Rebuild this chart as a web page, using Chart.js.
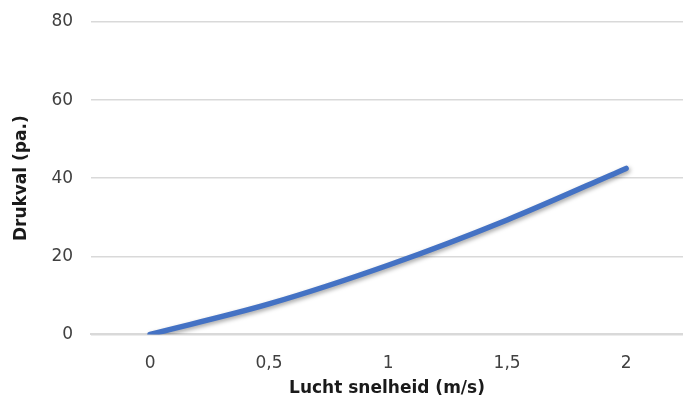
<!DOCTYPE html>
<html>
<head>
<meta charset="utf-8">
<script src="https://cdn.jsdelivr.net/npm/chart.js@4/dist/chart.umd.min.js"></script>
<style>
  html, body { margin: 0; padding: 0; background: #fff; overflow: hidden; }
  #wrap { width: 683px; height: 403px; }
</style>
</head>
<body>
<div id="wrap"><canvas id="chart"></canvas></div>
<script>
const snelheid = [0, 0.5, 1, 1.5, 2];
const drukval = [0, 7.8, 17.7, 29.3, 42.5];
const xTicks = [0, 0.5, 1, 1.5, 2];
const yTicks = [0, 20, 40, 60, 80];

// soft shadow under the line, like the original
const lineShadow = {
  id: 'lineShadow',
  beforeDatasetDraw(chart) {
    const ctx = chart.ctx;
    ctx.save();
    ctx.shadowColor = 'rgba(0,0,0,0.35)';
    ctx.shadowBlur = 4;
    ctx.shadowOffsetX = 1.5;
    ctx.shadowOffsetY = 2;
  },
  afterDatasetDraw(chart) {
    chart.ctx.restore();
  }
};

const ctx = document.getElementById('chart').getContext('2d');
new Chart(ctx, {
  type: 'line',
  data: {
    datasets: [{
      label: 'Drukval',
      data: snelheid.map((v, i) => ({ x: v, y: drukval[i] })),
      borderColor: '#4472C4',
      borderWidth: 5.5,
      borderCapStyle: 'round',
      pointRadius: 0,
      tension: 0.4,
      cubicInterpolationMode: 'monotone',
      fill: false
    }]
  },
  options: {
    responsive: true,
    maintainAspectRatio: false,
    animation: false,
    layout: { padding: { top: 22, right: 0, bottom: 6, left: 11 } },
    plugins: {
      legend: { display: false },
      tooltip: { enabled: false }
    },
    scales: {
      x: {
        type: 'linear',
        min: -0.248,
        max: 2.239,
        afterBuildTicks: axis => { axis.ticks = xTicks.map(v => ({ value: v })); },
        afterFit: axis => { axis.height -= 4; },
        grid: { display: false },
        border: { display: true, color: '#d9d9d9', width: 2 },
        ticks: {
          color: '#404040',
          font: { family: 'DejaVu Sans', size: 17, lineHeight: 0.8 },
          padding: 14,
          callback: v => String(v).replace('.', ',')
        },
        title: {
          display: true,
          text: 'Lucht snelheid (m/s)',
          color: '#1a1a1a',
          font: { family: 'DejaVu Sans', size: 17, weight: 'bold', lineHeight: 1 },
          padding: { top: 0, bottom: 0 }
        }
      },
      y: {
        min: 0,
        max: 80,
        afterBuildTicks: axis => { axis.ticks = yTicks.map(v => ({ value: v })); },
        afterFit: axis => { axis.paddingTop = 0; axis.paddingBottom = 0; },
        grid: { color: '#d9d9d9', lineWidth: 1.5, drawTicks: false },
        border: { display: false },
        ticks: {
          color: '#404040',
          font: { family: 'DejaVu Sans', size: 17 },
          padding: 18
        },
        title: {
          display: true,
          text: 'Drukval (pa.)',
          color: '#1a1a1a',
          font: { family: 'DejaVu Sans', size: 17, weight: 'bold' },
          padding: { top: 0, bottom: 2 }
        }
      }
    }
  },
  plugins: [lineShadow]
});
</script>
</body>
</html>
